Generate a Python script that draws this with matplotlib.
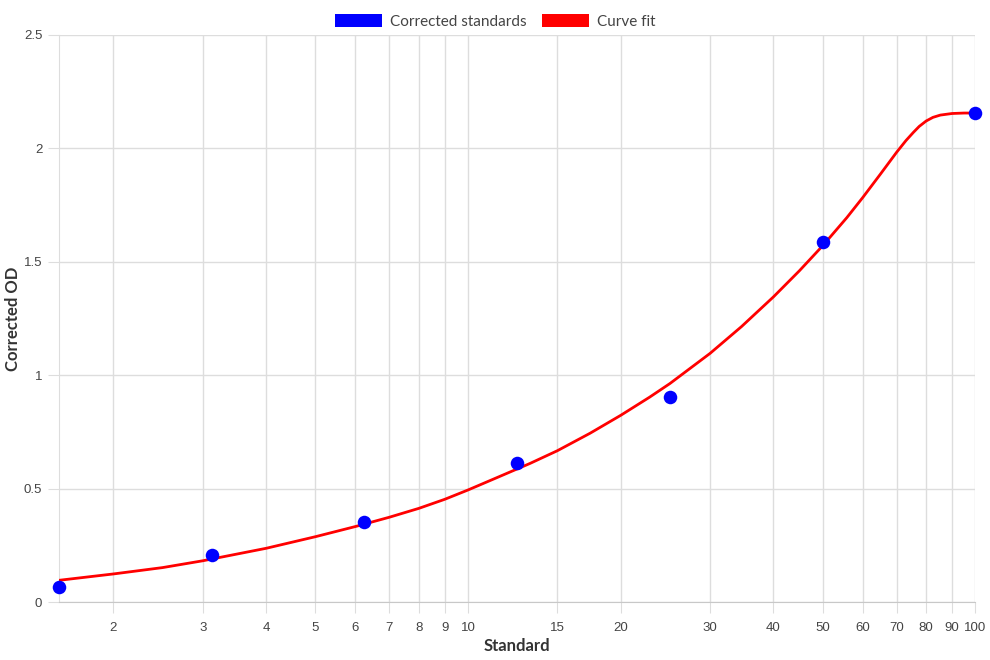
import matplotlib.pyplot as plt
from matplotlib.patches import Patch

# standards (x) and corrected OD
standards = [1.5625, 3.125, 6.25, 12.5, 25, 50, 100]
corrected_od = [0.066, 0.207, 0.353, 0.613, 0.904, 1.587, 2.156]

# curve fit
fit_x = [1.5625, 2, 2.5, 3, 4, 5, 6, 7, 8, 9, 10, 11.5, 13.25, 15, 17.4, 20, 22.8,
         25, 30, 34.6, 40, 45, 50, 55.8, 60, 65, 70, 73, 75.5, 77.5, 80, 82.5, 85.3,
         90, 95, 100]
fit_y = [0.097, 0.125, 0.153, 0.183, 0.238, 0.289, 0.334, 0.375, 0.414, 0.454, 0.495,
         0.553, 0.612, 0.668, 0.745, 0.824, 0.904, 0.964, 1.097, 1.215, 1.346, 1.461,
         1.571, 1.695, 1.784, 1.887, 1.984, 2.035, 2.071, 2.097, 2.121, 2.137, 2.147,
         2.154, 2.156, 2.156]

x_ticks = [2, 3, 4, 5, 6, 7, 8, 9, 10, 15, 20, 30, 40, 50, 60, 70, 80, 90, 100]
y_ticks = [0, 0.5, 1, 1.5, 2, 2.5]
y_labels = ['0', '0.5', '1', '1.5', '2', '2.5']

grid_col = '#dddddd'
text_col = '#444444'

fig = plt.figure(figsize=(9.9, 6.6), dpi=100)
ax = fig.add_axes([0.0596, 0.0874, 0.9256, 0.8596])

ax.plot(fit_x, fit_y, color='#ff0000', lw=2, zorder=3, solid_joinstyle='round')
ax.scatter(standards, corrected_od, s=95, color='#0000ff', zorder=4, linewidths=0,
           clip_on=False)

ax.set_xscale('log')
ax.set_xlim(1.5625, 100)
ax.set_ylim(0, 2.5)
ax.set_xticks(x_ticks)
ax.set_xticklabels([str(t) for t in x_ticks])
ax.minorticks_off()
ax.set_yticks(y_ticks)
ax.set_yticklabels(y_labels)

ax.grid(True, color=grid_col, lw=1)
ax.set_axisbelow(True)
for s in ['top', 'right']:
    ax.spines[s].set_visible(False)
ax.spines['left'].set_color(grid_col)
ax.spines['bottom'].set_color('#c8c8c8')
ax.tick_params(axis='both', length=8, color=grid_col, labelcolor=text_col, labelsize=9.5)
ax.tick_params(axis='x', pad=6)
ax.tick_params(axis='y', pad=4)
for lab in ax.get_xticklabels() + ax.get_yticklabels():
    lab.set_family('Liberation Sans')

fig.text(0.5 * (0.0596 + 0.9852), 0.021, 'Standard', ha='center', va='center',
         fontsize=12, fontweight='bold', color='#333333', family='Lato')
fig.text(0.013, 0.0874 + 0.8596 / 2, 'Corrected OD', ha='center', va='center', rotation=90,
         fontsize=12, fontweight='bold', color='#333333', family='Lato')

handles = [Patch(facecolor='#0000ff', label='Corrected standards'),
           Patch(facecolor='#ff0000', label='Curve fit')]
fig.legend(handles=handles, loc='upper center', bbox_to_anchor=(0.5, 1.0), ncol=2,
           frameon=False, handlelength=3.1, handleheight=1.0, handletextpad=0.5,
           columnspacing=1.0, prop={'family': 'Lato', 'size': 11}, labelcolor=text_col)

fig.savefig('out.png', dpi=100)
